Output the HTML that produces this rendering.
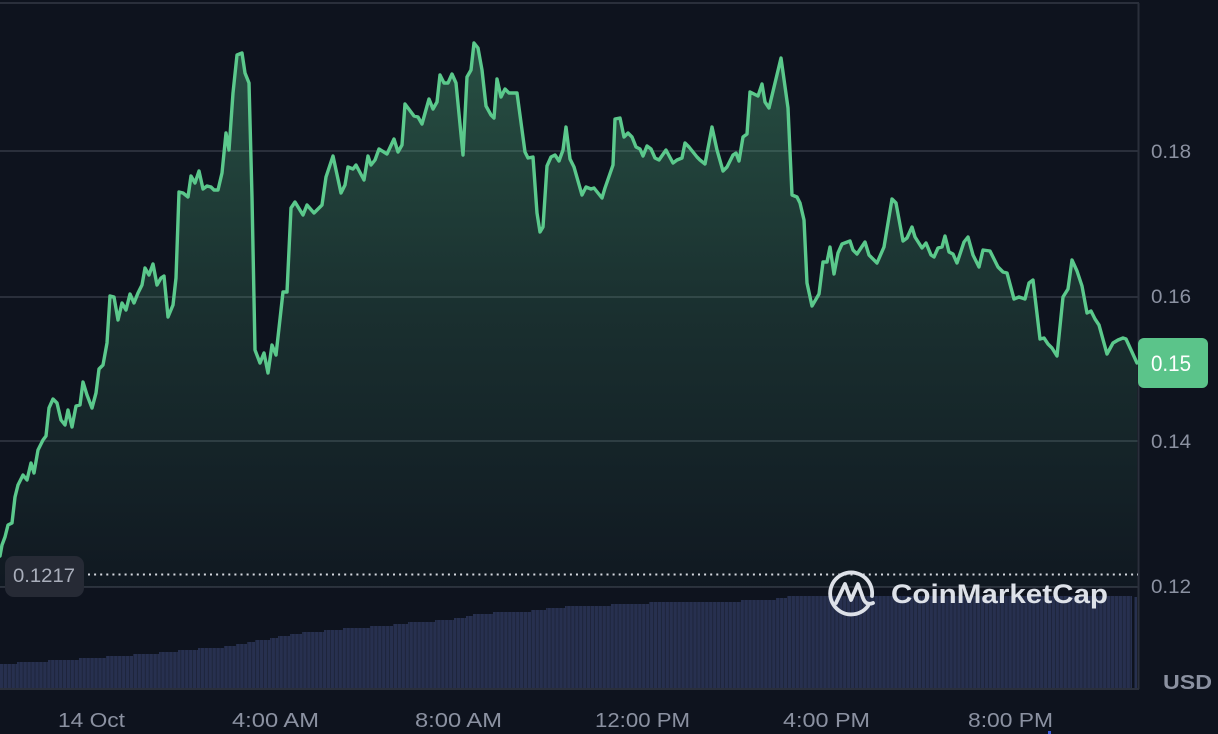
<!DOCTYPE html>
<html>
<head>
<meta charset="utf-8">
<style>
  html,body{margin:0;padding:0;background:#0e131e;}
  body{width:1218px;height:734px;overflow:hidden;}
  svg{display:block;}
  text{font-family:"Liberation Sans",Arial,sans-serif;}
</style>
</head>
<body>
<svg width="1218" height="734" viewBox="0 0 1218 734" xmlns="http://www.w3.org/2000/svg">
  <defs>
    <linearGradient id="fillg" x1="0" y1="40" x2="0" y2="587" gradientUnits="userSpaceOnUse">
      <stop offset="0" stop-color="#58c58a" stop-opacity="0.34"/>
      <stop offset="0.5" stop-color="#58c58a" stop-opacity="0.16"/>
      <stop offset="1" stop-color="#58c58a" stop-opacity="0.03"/>
    </linearGradient>
    <pattern id="bars" x="0" y="0" width="3.94" height="10" patternUnits="userSpaceOnUse">
      <rect x="0" y="0" width="3.94" height="10" fill="#1d243a"/>
      <rect x="0" y="0" width="3.0" height="10" fill="#27304f"/>
    </pattern>
    <clipPath id="plot"><rect x="0" y="3" width="1138" height="584"/></clipPath>
  </defs>

  <rect width="1218" height="734" fill="#0e131e"/>

  <!-- grid -->
  <g stroke="#2a2f3b" stroke-width="2">
    <line x1="0" y1="3" x2="1139" y2="3"/>
    <line x1="0" y1="151" x2="1138" y2="151"/>
    <line x1="0" y1="297" x2="1138" y2="297"/>
    <line x1="0" y1="441" x2="1138" y2="441"/>
    <line x1="0" y1="587" x2="1138" y2="587"/>
    <line x1="0" y1="689" x2="1139" y2="689"/>
    <line x1="1138.5" y1="3" x2="1138.5" y2="689"/>
  </g>

  <!-- volume -->
  <path fill="url(#bars)" d="M0,688 L0,664 H17 V662 H48 V660 H79 V658 H106 V656 H133 V654 H159 V652 H178 V650 H198 V648 H224 V646 H236 V644 H247 V642 H255 V640 H270 V638 H278 V636 H290 V634 H302 V632 H324 V630 H343 V628 H370 V626 H393 V624 H408 V622 H435 V620 H454 V618 H466 V616 H473 V614 H493 V612 H531 V610 H546 V608 H565 V606 H611 V604 H649 V602 H741 V600 H776 V598 H787 V596 H1132 V688 Z"/>
  <rect x="1134.5" y="597" width="2.5" height="91" fill="#27304f"/>

  <!-- price area -->
  <g clip-path="url(#plot)">
  <path fill="url(#fillg)" stroke="none" d="M0,556 L2,545 L5,537 L8,525 L12,523 L15,497 L18,485 L23,475 L27,480 L31,463 L34,473 L38,450 L43,440 L46,436 L49,408 L53,399 L57,403 L61,420 L65,425 L68,410 L72,427 L76,406 L80,405 L83,382 L87,395 L92,408 L96,393 L99,369 L103,365 L107,343 L110,296 L114,297 L118,320 L122,303 L126,310 L130,294 L134,303 L138,293 L142,285 L145,268 L149,275 L153,264 L157,285 L161,278 L164,276 L168,317 L173,305 L176,278 L179,192 L183,193 L188,197 L191,176 L195,183 L199,171 L203,189 L207,186 L211,187 L214,190 L218,190 L222,173 L226,133 L229,150 L233,93 L237,55 L242,53 L245,73 L249,83 L252,197 L255,350 L260,363 L264,353 L268,373 L272,345 L276,355 L283,292 L287,292 L291,208 L295,202 L303,215 L307,205 L314,213 L322,205 L326,177 L333,156 L341,193 L345,185 L348,167 L353,169 L356,165 L364,180 L368,156 L371,165 L375,160 L379,149 L387,154 L394,139 L398,152 L402,145 L405,104 L414,116 L418,117 L422,124 L429,99 L433,109 L437,102 L440,75 L444,83 L448,83 L452,74 L456,83 L463,155 L467,77 L471,70 L474,43 L478,48 L482,70 L486,106 L491,115 L494,118 L497,79 L501,97 L505,89 L509,93 L517,93 L525,152 L528,158 L533,157 L537,213 L540,232 L543,227 L547,166 L551,157 L555,155 L559,161 L563,150 L566,127 L570,159 L574,167 L582,195 L586,187 L591,189 L594,188 L602,198 L605,188 L613,165 L615,119 L620,118 L624,137 L628,133 L632,137 L636,147 L640,149 L643,156 L647,146 L651,149 L655,158 L659,160 L666,150 L673,163 L677,160 L682,158 L685,143 L689,147 L697,157 L700,160 L705,164 L712,127 L717,150 L723,171 L727,167 L733,155 L736,153 L739,161 L743,137 L747,134 L750,92 L758,96 L762,84 L765,102 L769,108 L781,58 L788,108 L792,195 L797,197 L800,203 L804,220 L807,283 L812,306 L819,294 L823,262 L827,262 L830,247 L834,274 L838,253 L842,244 L850,241 L853,250 L857,254 L865,242 L869,255 L877,263 L884,247 L892,199 L896,203 L903,241 L907,238 L912,227 L915,237 L922,248 L926,243 L931,255 L934,257 L938,248 L942,247 L945,236 L949,252 L953,254 L957,263 L964,242 L968,237 L973,255 L979,267 L983,250 L990,251 L998,267 L1003,272 L1007,273 L1014,299 L1019,297 L1025,299 L1029,283 L1033,280 L1040,339 L1044,338 L1048,344 L1052,348 L1057,356 L1063,297 L1068,289 L1072,260 L1077,271 L1082,286 L1087,313 L1091,311 L1095,319 L1099,325 L1107,354 L1113,343 L1118,340 L1123,338 L1126,339 L1137,363 L1137,587 L0,587 Z"/>
  </g>

  <!-- dotted reference line -->
  <line x1="88" y1="574.5" x2="1138" y2="574.5" stroke="#d4d7de" stroke-width="2" stroke-dasharray="2 4.1"/>

  <!-- price line -->
  <path fill="none" stroke="#5bc98c" stroke-width="3.4" stroke-linejoin="round" stroke-linecap="round" d="M0,556 L2,545 L5,537 L8,525 L12,523 L15,497 L18,485 L23,475 L27,480 L31,463 L34,473 L38,450 L43,440 L46,436 L49,408 L53,399 L57,403 L61,420 L65,425 L68,410 L72,427 L76,406 L80,405 L83,382 L87,395 L92,408 L96,393 L99,369 L103,365 L107,343 L110,296 L114,297 L118,320 L122,303 L126,310 L130,294 L134,303 L138,293 L142,285 L145,268 L149,275 L153,264 L157,285 L161,278 L164,276 L168,317 L173,305 L176,278 L179,192 L183,193 L188,197 L191,176 L195,183 L199,171 L203,189 L207,186 L211,187 L214,190 L218,190 L222,173 L226,133 L229,150 L233,93 L237,55 L242,53 L245,73 L249,83 L252,197 L255,350 L260,363 L264,353 L268,373 L272,345 L276,355 L283,292 L287,292 L291,208 L295,202 L303,215 L307,205 L314,213 L322,205 L326,177 L333,156 L341,193 L345,185 L348,167 L353,169 L356,165 L364,180 L368,156 L371,165 L375,160 L379,149 L387,154 L394,139 L398,152 L402,145 L405,104 L414,116 L418,117 L422,124 L429,99 L433,109 L437,102 L440,75 L444,83 L448,83 L452,74 L456,83 L463,155 L467,77 L471,70 L474,43 L478,48 L482,70 L486,106 L491,115 L494,118 L497,79 L501,97 L505,89 L509,93 L517,93 L525,152 L528,158 L533,157 L537,213 L540,232 L543,227 L547,166 L551,157 L555,155 L559,161 L563,150 L566,127 L570,159 L574,167 L582,195 L586,187 L591,189 L594,188 L602,198 L605,188 L613,165 L615,119 L620,118 L624,137 L628,133 L632,137 L636,147 L640,149 L643,156 L647,146 L651,149 L655,158 L659,160 L666,150 L673,163 L677,160 L682,158 L685,143 L689,147 L697,157 L700,160 L705,164 L712,127 L717,150 L723,171 L727,167 L733,155 L736,153 L739,161 L743,137 L747,134 L750,92 L758,96 L762,84 L765,102 L769,108 L781,58 L788,108 L792,195 L797,197 L800,203 L804,220 L807,283 L812,306 L819,294 L823,262 L827,262 L830,247 L834,274 L838,253 L842,244 L850,241 L853,250 L857,254 L865,242 L869,255 L877,263 L884,247 L892,199 L896,203 L903,241 L907,238 L912,227 L915,237 L922,248 L926,243 L931,255 L934,257 L938,248 L942,247 L945,236 L949,252 L953,254 L957,263 L964,242 L968,237 L973,255 L979,267 L983,250 L990,251 L998,267 L1003,272 L1007,273 L1014,299 L1019,297 L1025,299 L1029,283 L1033,280 L1040,339 L1044,338 L1048,344 L1052,348 L1057,356 L1063,297 L1068,289 L1072,260 L1077,271 L1082,286 L1087,313 L1091,311 L1095,319 L1099,325 L1107,354 L1113,343 L1118,340 L1123,338 L1126,339 L1137,363"/>

  <!-- start price label -->
  <rect x="5" y="556" width="79" height="41" rx="9" fill="#262a35"/>
  <text x="13" y="582" font-size="19" fill="#a9aebb" textLength="62" lengthAdjust="spacingAndGlyphs">0.1217</text>

  <!-- CoinMarketCap watermark -->
  <g fill="none" stroke="#dde1e8" stroke-width="3.8" stroke-linecap="round" stroke-linejoin="round">
    <path d="M868,606 A21,21 0 1 1 872,596"/>
    <path d="M836,603 L845,584 L851,600 L858,584 L863,598 Q866,606 873,603"/>
  </g>
  <text x="891" y="603" font-size="27" font-weight="bold" fill="#dde1e8" textLength="217" lengthAdjust="spacingAndGlyphs">CoinMarketCap</text>

  <!-- y axis labels -->
  <g font-size="19" fill="#8b91a1">
    <text x="1151" y="158" textLength="40" lengthAdjust="spacingAndGlyphs">0.18</text>
    <text x="1151" y="303" textLength="40" lengthAdjust="spacingAndGlyphs">0.16</text>
    <text x="1151" y="448" textLength="40" lengthAdjust="spacingAndGlyphs">0.14</text>
    <text x="1151" y="593" textLength="40" lengthAdjust="spacingAndGlyphs">0.12</text>
  </g>
  <text x="1163" y="689" font-size="20" font-weight="bold" fill="#8b91a1" textLength="49" lengthAdjust="spacingAndGlyphs">USD</text>

  <!-- current price badge -->
  <rect x="1138" y="338" width="70" height="50" rx="6" fill="#5bc48a"/>
  <text x="1151" y="371" font-size="22" fill="#ffffff" textLength="40" lengthAdjust="spacingAndGlyphs">0.15</text>

  <!-- x axis labels -->
  <g font-size="20" fill="#8b91a1">
    <text x="58" y="727" textLength="67" lengthAdjust="spacingAndGlyphs">14 Oct</text>
    <text x="232" y="727" textLength="87" lengthAdjust="spacingAndGlyphs">4:00 AM</text>
    <text x="415" y="727" textLength="87" lengthAdjust="spacingAndGlyphs">8:00 AM</text>
    <text x="595" y="727" textLength="95" lengthAdjust="spacingAndGlyphs">12:00 PM</text>
    <text x="783" y="727" textLength="87" lengthAdjust="spacingAndGlyphs">4:00 PM</text>
    <text x="968" y="727" textLength="85" lengthAdjust="spacingAndGlyphs">8:00 PM</text>
  </g>
  <rect x="1048" y="731" width="3" height="3" fill="#3b5bdb"/>
</svg>
</body>
</html>
